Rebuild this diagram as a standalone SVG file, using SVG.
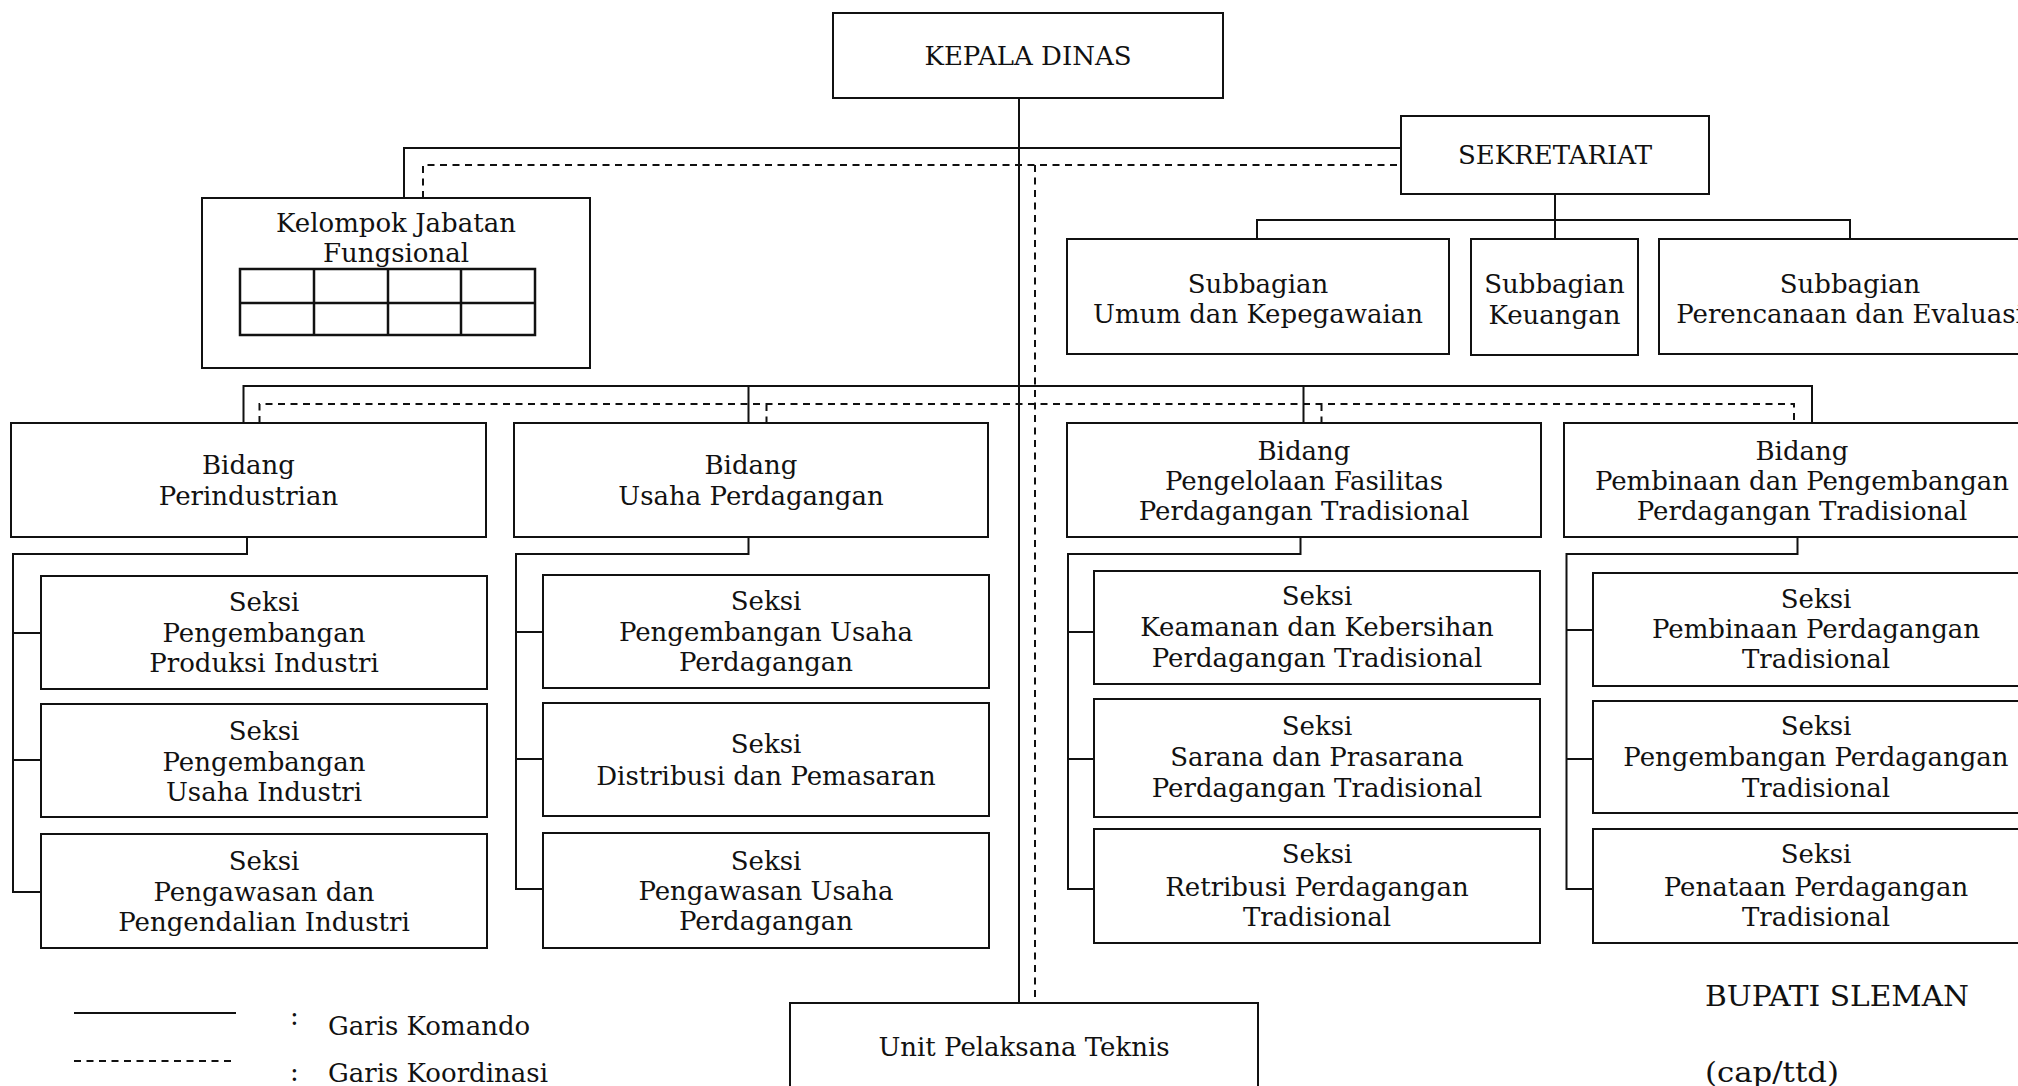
<svg xmlns="http://www.w3.org/2000/svg" width="2018" height="1086" viewBox="0 0 2018 1086">
<style>
.box{fill:#fff;stroke:#111;stroke-width:2}
.grid{fill:none;stroke:#111;stroke-width:2.5}
.t{font-family:"DejaVu Serif","Liberation Serif",serif;font-size:26px;fill:#111;text-anchor:middle}
.l{text-anchor:start}
.s{fill:none;stroke:#111;stroke-width:2}
.d{fill:none;stroke:#111;stroke-width:2;stroke-dasharray:7 5.5}
</style>
<rect width="2018" height="1086" fill="#fff"/>
<g id="connectors">
<path class="s" d="M1019 98V1003M404 198V148H1401M1555 194V220M1257 239V220H1850V239M1555 220V239"/>
<path class="d" d="M423 198V165H1401M1035 165V1003"/>
<path class="s" d="M243.5 423V386H1812V423M748.5 386V423M1303.5 386V423"/>
<path class="d" d="M259.5 423V404H1794V423M766.5 404V423M1321.5 404V423"/>
<path class="s" d="M247 537V554H13V892H41M13 633H41M13 760H41"/>
<path class="s" d="M748.5 537V554H516V889H543M516 632H543M516 759H543"/>
<path class="s" d="M1300.5 537V554H1068V889H1094M1068 632H1094M1068 759H1094"/>
<path class="s" d="M1797.5 537V554H1566.5V889H1593M1566.5 630H1593M1566.5 759H1593"/>
</g>
<g id="kepala-dinas"><rect class="box" x="833" y="13" width="390" height="85"/><text class="t" x="1028" y="65">KEPALA DINAS</text></g>
<g id="sekretariat"><rect class="box" x="1401" y="116" width="308" height="78"/><text class="t" x="1555" y="164">SEKRETARIAT</text></g>
<g id="kelompok-jabatan"><rect class="box" x="202" y="198" width="388" height="170"/><text class="t" x="396" y="232">Kelompok Jabatan</text><text class="t" x="396" y="262">Fungsional</text>
<rect class="grid" x="240" y="269" width="295" height="66"/><path class="grid" d="M240 303H535M314 269V335M388 269V335M461 269V335"/></g>
<g id="subbagian-umum"><rect class="box" x="1067" y="239" width="382" height="115"/><text class="t" x="1258" y="293">Subbagian</text><text class="t" x="1258" y="323">Umum dan Kepegawaian</text></g>
<g id="subbagian-keuangan"><rect class="box" x="1471" y="239" width="167" height="116"/><text class="t" x="1554.5" y="293">Subbagian</text><text class="t" x="1554.5" y="324">Keuangan</text></g>
<g id="subbagian-perencanaan"><rect class="box" x="1659" y="239" width="400" height="115"/><text class="t" x="1850" y="293">Subbagian</text><text class="t" x="1850" y="323">Perencanaan dan Evaluasi</text></g>
<g id="bidang-perindustrian"><rect class="box" x="11" y="423" width="475" height="114"/><text class="t" x="248.5" y="474">Bidang</text><text class="t" x="248.5" y="505">Perindustrian</text></g>
<g id="bidang-usaha"><rect class="box" x="514" y="423" width="474" height="114"/><text class="t" x="751" y="474">Bidang</text><text class="t" x="751" y="505">Usaha Perdagangan</text></g>
<g id="bidang-fasilitas"><rect class="box" x="1067" y="423" width="474" height="114"/><text class="t" x="1304" y="460">Bidang</text><text class="t" x="1304" y="490">Pengelolaan Fasilitas</text><text class="t" x="1304" y="520">Perdagangan Tradisional</text></g>
<g id="bidang-pembinaan"><rect class="box" x="1564" y="423" width="480" height="114"/><text class="t" x="1802" y="460">Bidang</text><text class="t" x="1802" y="490">Pembinaan dan Pengembangan</text><text class="t" x="1802" y="520">Perdagangan Tradisional</text></g>
<g id="seksi-1-1"><rect class="box" x="41" y="576" width="446" height="113"/><text class="t" x="264" y="611">Seksi</text><text class="t" x="264" y="642">Pengembangan</text><text class="t" x="264" y="672">Produksi Industri</text></g>
<g id="seksi-1-2"><rect class="box" x="41" y="704" width="446" height="113"/><text class="t" x="264" y="740">Seksi</text><text class="t" x="264" y="771">Pengembangan</text><text class="t" x="264" y="801">Usaha Industri</text></g>
<g id="seksi-1-3"><rect class="box" x="41" y="834" width="446" height="114"/><text class="t" x="264" y="870">Seksi</text><text class="t" x="264" y="901">Pengawasan dan</text><text class="t" x="264" y="931">Pengendalian Industri</text></g>
<g id="seksi-2-1"><rect class="box" x="543" y="575" width="446" height="113"/><text class="t" x="766" y="610">Seksi</text><text class="t" x="766" y="641">Pengembangan Usaha</text><text class="t" x="766" y="671">Perdagangan</text></g>
<g id="seksi-2-2"><rect class="box" x="543" y="703" width="446" height="113"/><text class="t" x="766" y="753">Seksi</text><text class="t" x="766" y="785">Distribusi dan Pemasaran</text></g>
<g id="seksi-2-3"><rect class="box" x="543" y="833" width="446" height="115"/><text class="t" x="766" y="870">Seksi</text><text class="t" x="766" y="900">Pengawasan Usaha</text><text class="t" x="766" y="930">Perdagangan</text></g>
<g id="seksi-3-1"><rect class="box" x="1094" y="571" width="446" height="113"/><text class="t" x="1317" y="605">Seksi</text><text class="t" x="1317" y="636">Keamanan dan Kebersihan</text><text class="t" x="1317" y="667">Perdagangan Tradisional</text></g>
<g id="seksi-3-2"><rect class="box" x="1094" y="699" width="446" height="118"/><text class="t" x="1317" y="735">Seksi</text><text class="t" x="1317" y="766">Sarana dan Prasarana</text><text class="t" x="1317" y="797">Perdagangan Tradisional</text></g>
<g id="seksi-3-3"><rect class="box" x="1094" y="829" width="446" height="114"/><text class="t" x="1317" y="863">Seksi</text><text class="t" x="1317" y="896">Retribusi Perdagangan</text><text class="t" x="1317" y="926">Tradisional</text></g>
<g id="seksi-4-1"><rect class="box" x="1593" y="573" width="450" height="113"/><text class="t" x="1816" y="608">Seksi</text><text class="t" x="1816" y="638">Pembinaan Perdagangan</text><text class="t" x="1816" y="668">Tradisional</text></g>
<g id="seksi-4-2"><rect class="box" x="1593" y="701" width="450" height="112"/><text class="t" x="1816" y="735">Seksi</text><text class="t" x="1816" y="766">Pengembangan Perdagangan</text><text class="t" x="1816" y="797">Tradisional</text></g>
<g id="seksi-4-3"><rect class="box" x="1593" y="829" width="450" height="114"/><text class="t" x="1816" y="863">Seksi</text><text class="t" x="1816" y="896">Penataan Perdagangan</text><text class="t" x="1816" y="926">Tradisional</text></g>
<g id="unit-pelaksana-teknis"><rect class="box" x="790" y="1003" width="468" height="120"/><text class="t" x="1024" y="1056">Unit Pelaksana Teknis</text></g>
<g id="legend">
<path class="s" d="M74 1013H236"/>
<path class="d" d="M74 1061H236"/>
<text class="t l" x="290" y="1025">:</text>
<text class="t l" x="328" y="1035">Garis Komando</text>
<text class="t l" x="290" y="1081">:</text>
<text class="t l" x="328" y="1082">Garis Koordinasi</text>
</g>
<g id="signature">
<text class="t l" x="1705" y="1006" style="font-size:28px" textLength="264" lengthAdjust="spacingAndGlyphs">BUPATI SLEMAN</text>
<text class="t l" x="1705" y="1082" style="font-size:28px" textLength="134" lengthAdjust="spacingAndGlyphs">(cap/ttd)</text>
</g>
</svg>
